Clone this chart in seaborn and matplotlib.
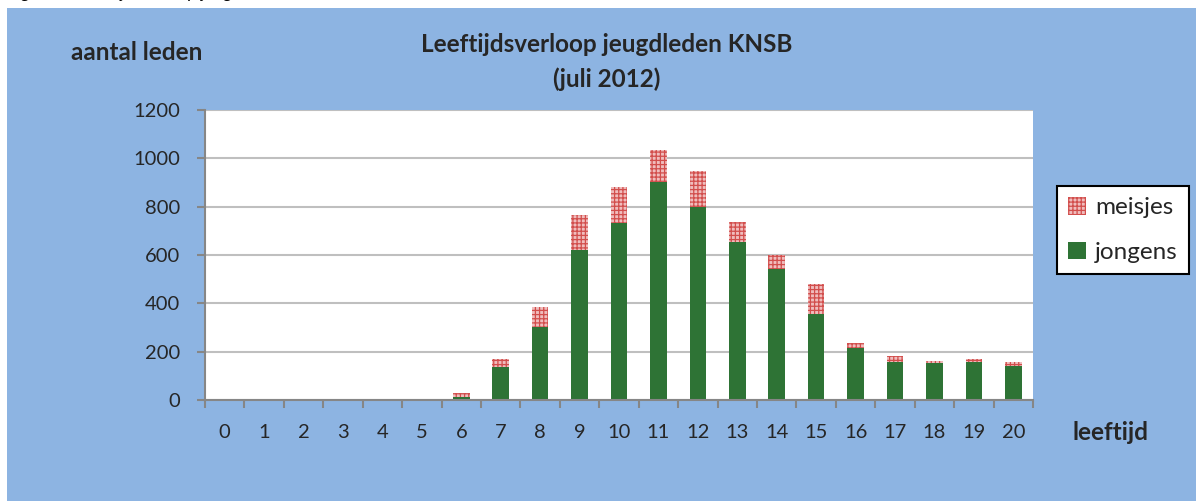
import numpy as np
import pandas as pd
import matplotlib
matplotlib.use("Agg")
import matplotlib.pyplot as plt
from matplotlib.patches import Patch, Rectangle
import seaborn as sns

# leeftijden en ledenaantallen
leeftijd = list(range(0, 21))
jongens = [0, 0, 0, 0, 0, 1, 12, 135, 301, 622, 731, 901, 797, 653, 542, 356, 214, 156, 152, 156, 139]
meisjes = [0, 0, 0, 2, 0, 2, 17, 36, 82, 144, 152, 135, 152, 85, 58, 124, 23, 25, 11, 14, 17]
y_ticks = [0, 200, 400, 600, 800, 1000, 1200]

BLUE = "#8DB4E2"
GREEN = "#2E7335"
PINK = "#F0BDBD"
RED = "#D24E4C"

sns.set_theme(style="white")
plt.rcParams["font.family"] = ["Lato", "DejaVu Sans"]
plt.rcParams["hatch.linewidth"] = 0.9

df = pd.DataFrame({"leeftijd": leeftijd, "jongens": jongens, "meisjes": meisjes})
df["totaal"] = df["jongens"] + df["meisjes"]

fig = plt.figure(figsize=(11.98, 5.01), dpi=100)
fig.patch.set_facecolor("white")
fig.patches.append(Rectangle((7 / 1198, 0), 1189 / 1198, 493 / 501,
                             transform=fig.transFigure, facecolor=BLUE,
                             edgecolor="none", zorder=-1))

# afgesneden bijschrift bovenaan
fig.text(8 / 1198, 1 + 2 / 501, "Figuur 5: Leeftijdsverloop jeugdleden KNSB",
         fontsize=13, style="italic", va="baseline", ha="left", color="black")

ax = fig.add_axes([205 / 1198, 1 - 400 / 501, 828 / 1198, 290 / 501])
ax.set_facecolor("white")

sns.barplot(data=df, x="leeftijd", y="totaal", order=leeftijd, color=PINK,
            saturation=1, width=0.42, hatch="++++", edgecolor=RED,
            linewidth=0, ax=ax)
sns.barplot(data=df, x="leeftijd", y="jongens", order=leeftijd, color=GREEN,
            saturation=1, width=0.42, linewidth=0, ax=ax)

ax.set_xlim(-0.5, 20.5)
ax.set_ylim(0, 1200)
ax.set_yticks(y_ticks)
ax.set_yticklabels([str(v) for v in y_ticks], fontsize=14.5)
ax.set_xticks(range(len(leeftijd)))
ax.set_xticklabels([str(v) for v in leeftijd], fontsize=14.5)
ax.set_xticks(np.arange(-0.5, 21, 1), minor=True)
ax.tick_params(axis="x", which="major", length=0, pad=17)
ax.tick_params(axis="x", which="minor", length=6, width=1.5, color="#868686",
               direction="out", bottom=True)
ax.tick_params(axis="y", length=6, width=1.5, color="#868686", direction="out",
               left=True, pad=12)
ax.set_xlabel("")
ax.set_ylabel("")

ax.yaxis.grid(True, color="#BFBFBF", linewidth=1.5)
ax.set_axisbelow(True)
for s in ["top", "right"]:
    ax.spines[s].set_visible(False)
for s in ["left", "bottom"]:
    ax.spines[s].set_color("#868686")
    ax.spines[s].set_linewidth(1.5)

fig.text(607 / 1198, 1 - 45 / 501, "Leeftijdsverloop jeugdleden KNSB",
         ha="center", va="center", fontsize=17.5, fontweight="bold")
fig.text(607 / 1198, 1 - 79 / 501, "(juli 2012)",
         ha="center", va="center", fontsize=17.5, fontweight="bold")
fig.text(137 / 1198, 1 - 52 / 501, "aantal leden", ha="center", va="center",
         fontsize=17.5, fontweight="bold")
fig.text(1110 / 1198, 1 - 432 / 501, "leeftijd", ha="center", va="center",
         fontsize=17.5, fontweight="bold")

handles = [Patch(facecolor=PINK, edgecolor=RED, hatch="++++", linewidth=0),
           Patch(facecolor=GREEN, linewidth=0)]
leg = fig.legend(handles, ["meisjes", "jongens"], loc="center",
                 bbox_to_anchor=(1123 / 1198, 1 - 230 / 501),
                 fontsize=17.5, frameon=True, fancybox=False,
                 handlelength=0.75, handleheight=0.75, handletextpad=0.35,
                 labelspacing=0.95, borderpad=0.45, borderaxespad=0)
leg.get_frame().set_edgecolor("black")
leg.get_frame().set_linewidth(1.5)
leg.get_frame().set_facecolor("white")
leg.get_frame().set_alpha(1)

fig.savefig("out.png", dpi=100)
